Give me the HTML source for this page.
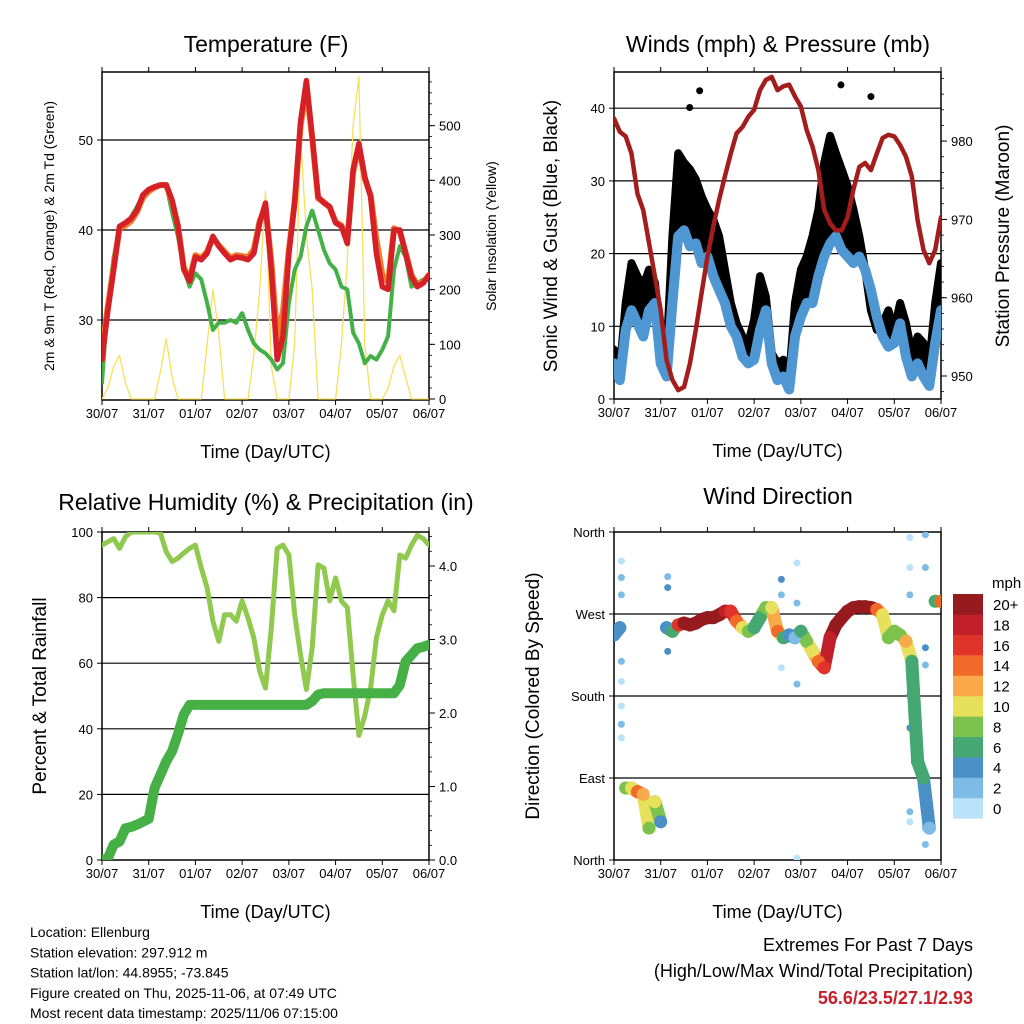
<!DOCTYPE html>
<html><head><meta charset="utf-8"><style>
body{margin:0;background:#fff}
svg{display:block;font-family:"Liberation Sans",sans-serif}
</style></head><body>
<svg id="c" width="1024" height="1024" viewBox="0 0 1024 1024"></svg>
<script>
// ---- data (3-hourly, 57 points over 7 days) ----
const dayLabels=["30/07","31/07","01/07","02/07","03/07","04/07","05/07","06/07"];
const temp2m=[25.6,31,35.6,40.4,40.8,41.3,42.2,43.9,44.5,44.8,45,45,43.3,40.4,35.6,34.3,37,36.7,37.4,39.3,38.2,37.4,36.7,37,36.9,36.7,37.4,40.8,43,35.6,25.6,28.2,37.4,43,52,56.6,50.4,43.7,43,42.6,40.8,40.4,38.5,46.7,49.6,45.9,43.7,37.4,33.7,33.4,40,40,37.4,34.8,33.7,34.1,35];
const temp9m=[26.5,31.5,35.8,40.2,40.5,41,42,43.6,44.3,44.7,45,45,43.2,40.5,35.8,34.6,37.2,36.9,37.6,39.1,38.3,37.6,36.9,37.2,37.1,37,37.8,41,42.6,36.5,28,31,37.8,43.2,51.5,55.8,50.2,43.5,43.1,42.5,40.9,40.5,38.8,46.4,49.3,45.7,43.9,39,35,34.2,40.2,39.8,37.5,35,33.9,34.2,35];
const dew2m=[23,31.9,37,40.4,40.4,41.5,42.6,43.9,44.5,44.8,45,45,41.9,39.3,35.6,33.7,35.2,34.5,31.9,28.9,29.7,29.7,30,29.7,30.8,28.9,27.4,26.7,26.3,25.6,24.5,25.2,31.9,35.6,37,40.4,42.2,40,37.8,36.3,35.6,33.7,33.4,28.6,27.4,25.2,26,25.6,26.7,28.2,35.6,38.2,37,33.7,34.1,34.5,34.8];
const solar=[0,20,60,80,30,0,0,0,0,0,50,110,40,0,0,0,0,0,100,200,120,0,0,0,0,0,80,200,380,60,0,0,0,100,480,300,200,0,0,0,0,100,250,500,590,100,0,0,0,20,60,80,40,0,0,0,0];
const pressure=[982.9,981.2,980.6,978.4,973.3,971.2,967,962.7,958.4,952,949.5,948.2,948.6,951.6,955.9,960.6,965.2,969.1,972.5,975.5,978.4,981,981.8,983.1,984,986.5,987.8,988.2,986.5,987,987.2,985.7,984.4,981.4,979.3,976.3,971.2,969.5,968.6,968.6,970.3,973.8,976.7,977.2,976.3,978.4,980.4,980.8,980.6,979.5,978,975.5,969.9,966.1,964.4,966.1,970.3];
const windSpeed=[4.9,2.6,9.5,12.2,10.4,8.6,12.2,13.2,4.9,3.1,13.2,22.4,23.2,21,21.4,18.7,19.6,16.9,15,13.2,10,8.6,5.8,4.9,5.4,9.5,12.2,4.9,2.6,3.1,1.3,8.6,11.3,13.2,13.2,16.9,19.6,21.4,22.4,20.5,19.6,18.7,19.6,17.8,15,11.3,8.6,7.2,7.7,10.4,5.8,3.1,4.9,3.1,1.8,7.7,12.2];
const windGust=[6.8,4,13.2,18.7,16.9,15.5,17.8,16,8.6,6.3,22.4,33.8,32.5,31.6,30.2,27.9,26.1,24.7,22.4,17.8,13.2,10.4,8.6,7.7,10.9,16.9,14.1,6.3,4.9,5.4,3.1,13.2,17.8,19.6,22.4,26.1,32.5,36.2,33.8,31.6,29.3,26.1,22.4,17.8,12.2,9.5,10.4,12.2,9.5,13.2,10.4,6.3,8.6,7.7,4.9,13.2,18.7];
const gustOutlierHours=[44,38.9,116.6,132];
const gustOutlierValues=[42.4,40.1,43.2,41.6];
const rhValues=[96,97,98,95,98.5,100,100,100,100,100,99.7,94,91,92,93.6,95,96,89,83,72.8,66.7,74.8,74.8,72.8,79,73.8,67.7,57.5,52.4,70.7,95,96,93,74.8,62.6,52,64.7,90,89,79,86,79,77,56.5,38,44,52.4,67.7,74.8,79,76,93,92,96,99,98,96];
const precipTotal=[0,0.02,0.21,0.25,0.43,0.45,0.48,0.52,0.56,0.98,1.16,1.34,1.48,1.71,1.98,2.11,2.11,2.11,2.11,2.11,2.11,2.11,2.11,2.11,2.11,2.11,2.11,2.11,2.11,2.11,2.11,2.11,2.11,2.11,2.11,2.11,2.16,2.25,2.27,2.27,2.27,2.27,2.27,2.27,2.27,2.27,2.27,2.27,2.27,2.27,2.27,2.38,2.7,2.79,2.88,2.9,2.93];
const windDir=[247,255,79,79,75,72,35,64,42,255,251,258,260,258,260,264,266,266,269,273,273,262,255,251,255,266,277,277,251,244,247,244,251,240,229,218,211,244,258,266,273,277,278,278,277,275,269,244,251,247,240,218,108,90,35,284,284];
const dirSpeed=[3,3,8,10,14,12,8,10,4,4,6,16,20,20,20,20,20,20,20,18,16,14,10,8,6,6,8,10,14,6,4,2,6,8,10,14,16,18,20,20,20,20,20,20,20,14,10,8,8,8,12,6,6,6,2,6,14];
const strayHours=[3.8,3.8,3.8,3.8,3.8,3.8,3.8,3.8,27.6,27.6,27.6,86,86,86,94,94,94,94,152,152,152,152,152,152,152,152,160,160,160,160,160,160];
const strayDir=[328,310,291,218,196,169,149,134,311,299,229,308,291,211,326,282,193,2,354,321,291,236,181,145,53,42,357,321,233,214,35,17];
const straySpeed=[0,2,2,2,0,0,2,0,2,4,4,4,2,0,0,2,2,0,0,0,2,4,4,4,2,0,2,2,4,2,2,2];
const speedLevels=["0","2","4","6","8","10","12","14","16","18","20+"];
const speedColors=["#b8e3f8","#7ebbe6","#4a8fc6","#45a873","#7cc24e","#e6e05a","#f9a84a","#f26a2a","#e0342b","#c1202a","#961b1e"];
const tTicks=[30,40,50], sTicks=[0,100,200,300,400,500];
const wTicks=[0,10,20,30,40], pTicks=[950,960,970,980];
const rhTicks=[0,20,40,60,80,100], prTicks=[0,1,2,3,4];
const dirTicks=[0,90,180,270,360], dirNames=["North","East","South","West","North"];

const NS="http://www.w3.org/2000/svg";
const svg=document.getElementById('c');
function mk(tag,attrs,parent){const e=document.createElementNS(NS,tag);for(const k in attrs)e.setAttribute(k,attrs[k]);(parent||svg).appendChild(e);return e;}
function txt(s,x,y,size,anchor,parent,extra){const e=mk('text',Object.assign({x:x,y:y,'font-size':size,'text-anchor':anchor||'middle',fill:'#000'},extra||{}),parent);e.textContent=s;return e;}

const P1={x0:102,x1:429,y0:72,y1:400}, P2={x0:614,x1:941,y0:72,y1:399}, P3={x0:102,x1:429,y0:532,y1:860}, P4={x0:614,x1:941,y0:532,y1:860};
function xT(P,h){return P.x0+h/168*(P.x1-P.x0);}
const yTemp=v=>320-(v-30)*9, ySolar=v=>399-v*0.5467;
const yWind=v=>399-v*7.27, yPres=v=>376-(v-950)*7.83;
const yRH=v=>860-v*3.28, yPr=v=>860-v*73.5;
const yDir=v=>860-v/360*328;

function frame(P,name){
  const g=mk('g',{});
  
  
  mk('rect',{x:P.x0,y:P.y0,width:P.x1-P.x0,height:P.y1-P.y0,fill:'none',stroke:'#000','stroke-width':1.5},g);
  dayLabels.forEach((d,i)=>{const x=xT(P,i*24);
    mk('line',{x1:x,x2:x,y1:P.y1,y2:P.y1+5,stroke:'#000'},g);
    mk('line',{x1:x,x2:x,y1:P.y0,y2:P.y0-5,stroke:'#000'},g);
    const t=txt(d,x,P.y1+18,13,'middle',g);
    
    
  });
  const xt=txt('Time (Day/UTC)',(P.x0+P.x1)/2,P.y1+58,18,'middle',g);
  
  
  return g;
}
function grid(P,vals,f,g){vals.forEach(v=>{const y=f(v);if(y>P.y0+1&&y<P.y1-1)mk('line',{x1:P.x0,x2:P.x1,y1:y,y2:y,stroke:'#000','stroke-width':1.2},g);});}
function leftTicks(P,vals,f,labels,g){vals.forEach((v,i)=>{const y=f(v);mk('line',{x1:P.x0-5,x2:P.x0,y1:y,y2:y,stroke:'#000'},g);const t=txt(labels?labels[i]:String(v),P.x0-9,y+5,13,'end',g);
});}
function rightTicks(P,vals,f,labels,g){vals.forEach((v,i)=>{const y=f(v);mk('line',{x1:P.x1,x2:P.x1+6,y1:y,y2:y,stroke:'#000'},g);const t=txt(labels?labels[i]:String(v),P.x1+10,y+5,13,'start',g);
});}
function minorRight(P,from,to,step,f,g){for(let v=from;v<=to+1e-9;v+=step){const y=f(v);if(y>=P.y0&&y<=P.y1)mk('line',{x1:P.x1,x2:P.x1+3,y1:y,y2:y,stroke:'#000','stroke-width':0.8},g);}}
function pts(P,arr,f){return arr.map((v,i)=>xT(P,i*3).toFixed(1)+','+f(v).toFixed(1)).join(' ');}
function line(P,arr,f,color,w,name,dash){const e=mk('polyline',{points:pts(P,arr,f),fill:'none',stroke:color,'stroke-width':w,'stroke-linejoin':'round','stroke-linecap':'round'});if(dash)e.setAttribute('stroke-dasharray',dash);

return e;}
function title(s,x,y,name){const t=txt(s,x,y,23,'middle');
}
function vlabel(s,x,y,size,name){const t=txt(s,x,y,size,'middle',svg,{transform:'rotate(-90 '+x+' '+y+')'});
}

const defs=mk('defs',{});
[P1,P2,P3,P4].forEach((P,i)=>{const cp=mk('clipPath',{id:'cp'+i},defs);mk('rect',{x:P.x0,y:P.y0,width:P.x1-P.x0,height:P.y1-P.y0},cp);});

// ---- Panel 1: Temperature ----
title('Temperature (F)',266,52,'temperature-title');
let g1=frame(P1,'temperature');
grid(P1,tTicks,yTemp,g1);leftTicks(P1,tTicks,yTemp,null,g1);rightTicks(P1,sTicks,ySolar,null,g1);minorRight(P1,0,600,20,ySolar,g1);
vlabel('2m & 9m T (Red, Orange) & 2m Td (Green)',54,236,14,'temperature-y-axis-title');
vlabel('Solar Insolation (Yellow)',496,236,14,'solar-y-axis-title');
let c1=mk('g',{'clip-path':'url(#cp0)'});
c1.appendChild(line(P1,solar,ySolar,'#f8df5a',1.3,'solar-line'));
c1.appendChild(line(P1,dew2m,yTemp,'#44b048',4,'dewpoint-line','3 1.5'));
c1.appendChild(line(P1,temp9m,yTemp,'#f27a2a',6,'temp-9m-line'));
c1.appendChild(line(P1,temp2m,yTemp,'#d62028',5.5,'temp-2m-line'));

// ---- Panel 2: Winds & Pressure ----
title('Winds (mph) & Pressure (mb)',778,52,'winds-title');
let g2=frame(P2,'winds');
grid(P2,wTicks,yWind,g2);leftTicks(P2,wTicks,yWind,null,g2);rightTicks(P2,pTicks,yPres,null,g2);minorRight(P2,946,988,2,yPres,g2);
vlabel('Sonic Wind & Gust (Blue, Black)',557,236,19,'wind-y-axis-title');
vlabel('Station Pressure (Maroon)',1009,236,19,'pressure-y-axis-title');
let c2=mk('g',{'clip-path':'url(#cp1)'});
const band=mk('polygon',{points:pts(P2,windGust,yWind)+' '+windSpeed.map((v,i)=>xT(P2,i*3).toFixed(1)+','+yWind(v).toFixed(1)).reverse().join(' '),fill:'#000',stroke:'#000','stroke-width':8,'stroke-linejoin':'round'},c2);


gustOutlierHours.forEach((h,i)=>{const d=mk('circle',{cx:xT(P2,h),cy:yWind(gustOutlierValues[i]),r:3.5,fill:'#000'},c2);

});
c2.appendChild(line(P2,windSpeed,yWind,'#4f97d2',10,'wind-speed-line'));
c2.appendChild(line(P2,pressure,yPres,'#a31d1d',4.5,'pressure-line'));

// ---- Panel 3: RH & Precip ----
title('Relative Humidity (%) & Precipitation (in)',266,510,'humidity-title');
let g3=frame(P3,'humidity');
grid(P3,rhTicks,yRH,g3);leftTicks(P3,rhTicks,yRH,null,g3);rightTicks(P3,prTicks,yPr,prTicks.map(v=>v.toFixed(1)),g3);minorRight(P3,0,4.4,0.2,yPr,g3);
vlabel('Percent & Total Rainfall',46,696,19,'humidity-y-axis-title');
let c3=mk('g',{'clip-path':'url(#cp2)'});
c3.appendChild(line(P3,rhValues,yRH,'#8fc94e',5,'rh-line'));
c3.appendChild(line(P3,precipTotal,yPr,'#46b046',10,'precip-line'));

// ---- Panel 4: Wind direction ----
title('Wind Direction',778,504,'wind-direction-title');
let g4=frame(P4,'wind-direction');
grid(P4,dirTicks,yDir,g4);
dirTicks.forEach((v,i)=>{const y=yDir(v);mk('line',{x1:P4.x0-5,x2:P4.x0,y1:y,y2:y,stroke:'#000'},g4);const t=txt(dirNames[i],P4.x0-9,y+5,13,'end',g4);

});
vlabel('Direction (Colored By Speed)',539,696,19,'direction-y-axis-title');
let c4=mk('g',{'clip-path':'url(#cp3)'});
function colorFor(s){let k=Math.min(10,Math.max(0,Math.round(s/2)));return speedColors[k];}
strayHours.forEach((h,i)=>{const p=mk('circle',{cx:xT(P4,h),cy:yDir(strayDir[i]),r:3.5,fill:colorFor(straySpeed[i])},c4);

});
for(let i=0;i<windDir.length-1;i++){
  if(Math.abs(windDir[i+1]-windDir[i])>120)continue;
  const s=mk('line',{x1:xT(P4,i*3),y1:yDir(windDir[i]),x2:xT(P4,(i+1)*3),y2:yDir(windDir[i+1]),stroke:colorFor((dirSpeed[i]+dirSpeed[i+1])/2),'stroke-width':13,'stroke-linecap':'round'},c4);
  
  
}
windDir.forEach((d,i)=>{const p=mk('circle',{cx:xT(P4,i*3),cy:yDir(d),r:6.5,fill:colorFor(dirSpeed[i])},c4);

});
const cb=mk('g',{});


txt('mph',992,588,15,'start',cb);
for(let k=0;k<11;k++){const y=594+(10-k)*20.4;mk('rect',{x:953,y:y,width:30,height:20.6,fill:speedColors[k]},cb);
const t=txt(speedLevels[k],993,y+16,15,'start',cb);

}

// ---- Footer text ----
const info=["Location: Ellenburg","Station elevation: 297.912 m","Station lat/lon: 44.8955; -73.845","Figure created on Thu, 2025-11-06, at 07:49 UTC","Most recent data timestamp: 2025/11/06 07:15:00"];
info.forEach((s,i)=>{const t=txt(s,30,937+i*20.3,14,'start');

});
let e1=txt('Extremes For Past 7 Days',973,951,18,'end');


let e2=txt('(High/Low/Max Wind/Total Precipitation)',973,977,18,'end');


let e3=txt('56.6/23.5/27.1/2.93',973,1004,18,'end',svg,{'font-weight':'bold',fill:'#c8202a'});


</script>
</body></html>
